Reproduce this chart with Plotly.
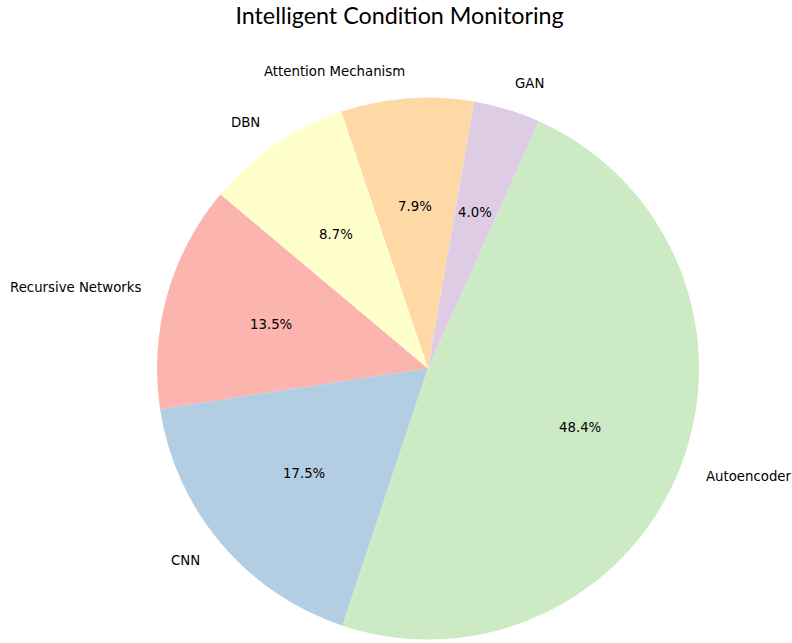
import math
import plotly.graph_objects as go

labels = ["Recursive Networks", "CNN", "Autoencoder", "GAN", "Attention Mechanism", "DBN"]
values = [13.5, 17.5, 48.4, 4.0, 7.9, 8.7]
colors = ["#fbb4ae", "#b3cde3", "#ccebc5", "#decbe4", "#fed9a6", "#ffffcc"]
title = "Intelligent Condition Monitoring"
start_angle = 140  # degrees, counterclockwise from 3 o'clock

W, H = 792, 643
cx, cy, R = 428.0, 368.5, 271.0  # pixel centre/radius of the pie

total = sum(values)
# plotly (counterclockwise) puts the first slice clockwise of the rotation point
rotation = (90 - start_angle) - 360.0 * values[0] / total

fig = go.Figure()
fig.add_trace(go.Pie(
    labels=labels, values=values, sort=False, direction="counterclockwise",
    rotation=rotation, textinfo="none", hoverinfo="label+percent",
    marker=dict(colors=colors, line=dict(width=0)),
    domain=dict(x=[(cx - R) / W, (cx + R) / W], y=[(H - cy - R) / H, (H - cy + R) / H]),
    showlegend=False,
))

FS = 13.3
ann = []
a0 = start_angle
for lab, v in zip(labels, values):
    span = 360.0 * v / total
    mid = math.radians(a0 + span / 2)
    a0 += span
    c, s = math.cos(mid), math.sin(mid)
    # outer label
    ann.append(dict(
        x=(cx + 1.1 * R * c) / W, y=(H - cy + 1.1 * R * s) / H, xref="paper", yref="paper",
        text=lab, showarrow=False, xanchor="left" if c > 0 else "right", yanchor="middle",
        borderpad=0, borderwidth=0,
        font=dict(family="DejaVu Sans", size=FS, color="#000000"),
    ))
    # percent label
    ann.append(dict(
        x=(cx + 0.6 * R * c) / W, y=(H - cy + 0.6 * R * s) / H, xref="paper", yref="paper",
        text=f"{100 * v / total:.1f}%", showarrow=False, xanchor="center", yanchor="middle",
        borderpad=0, borderwidth=0,
        font=dict(family="DejaVu Sans", size=FS, color="#000000"),
    ))

fig.update_layout(
    width=W, height=H, margin=dict(l=0, r=0, t=0, b=0),
    paper_bgcolor="white", plot_bgcolor="white",
    title=dict(text=title, x=399.5 / W, xanchor="center", y=1 - 16 / H, yanchor="middle",
               font=dict(family="Lato", size=23.3, color="#000000")),
    annotations=ann,
)

fig.write_html("out.html", config={"displayModeBar": False},
               post_script="document.body.style.margin='0';document.body.style.padding='0';")
